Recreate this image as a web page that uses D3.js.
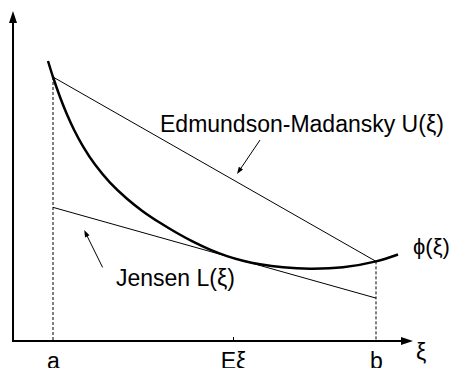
<!DOCTYPE html>
<html>
<head>
<meta charset="utf-8">
<script src="https://cdn.jsdelivr.net/npm/d3@7"></script>
<style>
  html, body { margin: 0; padding: 0; background: #fff; overflow: hidden; }
  text { font-family: "Liberation Sans", Arial, Helvetica, sans-serif; fill: #000; }
</style>
</head>
<body>
<script>
// Convex function phi(xi), sampled along the interval
const phiXi = [8.75, 10, 11.75, 13.5, 15.25, 17.5, 20.5, 24.25, 28.5, 32.5, 36.75, 41, 45, 49.25, 53.5, 57.5, 61.75, 67.5, 74.25, 82.5, 90.75, 96.25];
const phiVal = [84.85, 80, 73.95, 68.65, 64.03, 58.98, 53.45, 48.0, 43.11, 39.27, 35.82, 32.73, 30.11, 27.69, 25.73, 24.32, 23.24, 22.33, 21.92, 22.33, 24.13, 26.21];

// Points marked on the xi axis
const tickNames = ["a", "E\u03BE", "b"];
const tickXi = [10, 55, 90.75];

// Edmundson-Madansky chord U(xi) and Jensen tangent L(xi), values at a and b
const upperAtEnds = [80, 24.13];
const lowerAtEnds = [40.5, 13.0];

const W = 455, H = 368;
const x = d3.scaleLinear().domain([0, 100]).range([13, 413]);
const y = d3.scaleLinear().domain([0, 100]).range([341, 11]);

const svg = d3.select("body").append("svg")
  .attr("width", W).attr("height", H);

function arrowHead(x1, y1, x2, y2, len, half) {
  const dx = x2 - x1, dy = y2 - y1, d = Math.hypot(dx, dy);
  const ux = dx / d, uy = dy / d;
  const bx = x2 - ux * len, by = y2 - uy * len;
  return `M${x2},${y2}L${bx - uy * half},${by + ux * half}L${bx + uy * half},${by - ux * half}Z`;
}

// Axes with arrowheads
const x0 = x(0), y0 = y(0);
svg.append("line").attr("x1", x0).attr("y1", y0 + 1).attr("x2", x0).attr("y2", y(100) + 10)
  .attr("stroke", "#000").attr("stroke-width", 2);
svg.append("path").attr("d", arrowHead(x0, y0, x0, y(100), 12, 4)).attr("fill", "#000");
svg.append("line").attr("x1", x0 - 1).attr("y1", y0).attr("x2", x(100) - 10).attr("y2", y0)
  .attr("stroke", "#000").attr("stroke-width", 2);
svg.append("path").attr("d", arrowHead(x0, y0, x(100), y0, 12, 4)).attr("fill", "#000");

// Tick labels on the xi axis
const axis = d3.axisBottom(x)
  .tickValues(tickXi)
  .tickFormat((d, i) => tickNames[i])
  .tickSizeInner(-4)
  .tickSizeOuter(0);
const gx = svg.append("g").attr("transform", `translate(0,${y0})`).call(axis);
gx.select(".domain").remove();
gx.selectAll(".tick line").attr("stroke", "#000").attr("stroke-width", 1)
  .attr("opacity", (d, i) => i === 1 ? 1 : 0);
gx.selectAll(".tick text")
  .attr("y", 28).attr("dy", null)
  .attr("font-size", 23)
  .attr("font-family", "Liberation Sans, Arial, sans-serif")
  .attr("fill", "#000");

// Dashed verticals at a and b
[[tickXi[0], upperAtEnds[0]], [tickXi[2], upperAtEnds[1]]].forEach(([xi, v]) => {
  svg.append("line")
    .attr("x1", x(xi)).attr("x2", x(xi))
    .attr("y1", y(v)).attr("y2", y0)
    .attr("stroke", "#000").attr("stroke-width", 1)
    .attr("stroke-dasharray", "3,2");
});

// Chord U and tangent L
svg.append("line")
  .attr("x1", x(tickXi[0])).attr("y1", y(upperAtEnds[0]))
  .attr("x2", x(tickXi[2])).attr("y2", y(upperAtEnds[1]))
  .attr("stroke", "#000").attr("stroke-width", 1);
svg.append("line")
  .attr("x1", x(tickXi[0])).attr("y1", y(lowerAtEnds[0]))
  .attr("x2", x(tickXi[2])).attr("y2", y(lowerAtEnds[1]))
  .attr("stroke", "#000").attr("stroke-width", 1);

// phi curve
const line = d3.line()
  .x((d, i) => x(phiXi[i]))
  .y(d => y(d))
  .curve(d3.curveCatmullRom.alpha(0.5));
svg.append("path")
  .attr("d", line(phiVal))
  .attr("fill", "none").attr("stroke", "#000").attr("stroke-width", 2.5);

// Labels with pointer arrows
function pointer(a, b) {
  const x1 = x(a[0]), y1 = y(a[1]), x2 = x(b[0]), y2 = y(b[1]);
  const dx = x2 - x1, dy = y2 - y1, d = Math.hypot(dx, dy);
  svg.append("line")
    .attr("x1", x1).attr("y1", y1)
    .attr("x2", x2 - dx / d * 5).attr("y2", y2 - dy / d * 5)
    .attr("stroke", "#000").attr("stroke-width", 1);
  svg.append("path").attr("d", arrowHead(x1, y1, x2, y2, 7, 2.5)).attr("fill", "#000");
}
pointer([61.75, 60.9], [56, 50.6]);
pointer([22.4, 22.3], [17.8, 33.6]);

svg.append("text").attr("x", 160).attr("y", 132).attr("font-size", 23)
  .text("Edmundson-Madansky U(\u03BE)");
svg.append("text").attr("x", 116).attr("y", 286).attr("font-size", 23)
  .text("Jensen L(\u03BE)");
svg.append("text").attr("x", 413).attr("y", 254).attr("font-size", 22)
  .text("\u03D5(\u03BE)");
svg.append("text").attr("x", 416).attr("y", 360).attr("font-size", 23)
  .text("\u03BE");
</script>
</body>
</html>
